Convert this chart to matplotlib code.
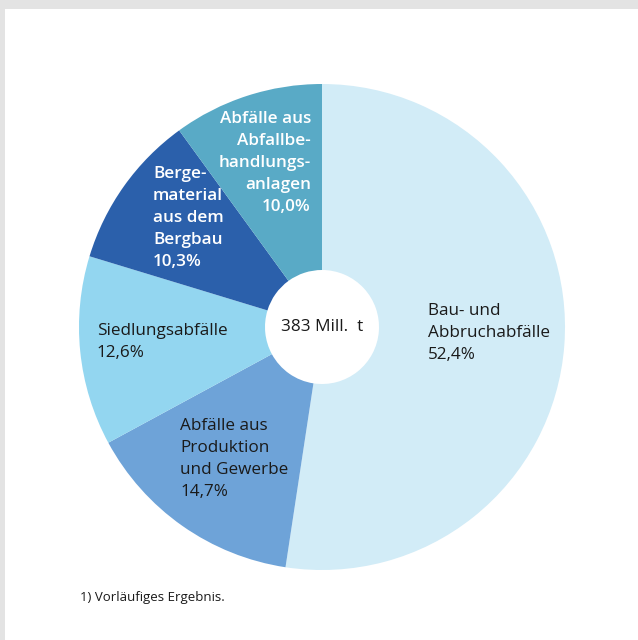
import matplotlib.pyplot as plt
from matplotlib.patches import Rectangle

# Shares of waste volume (percent), clockwise from 12 o'clock
labels = [
    "Bau- und\nAbbruchabfälle\n52,4%",
    "Abfälle aus\nProduktion\nund Gewerbe\n14,7%",
    "Siedlungsabfälle\n12,6%",
    "Berge-\nmaterial\naus dem\nBergbau\n10,3%",
    "Abfälle aus\nAbfallbe-\nhandlungs-\nanlagen\n10,0%",
]
shares = [52.4, 14.7, 12.6, 10.3, 10.0]
colors = ["#d2ecf7", "#6ea3d8", "#93d6f0", "#2b60ab", "#59aac6"]
total_label = "383 Mill.  t"
footnote = "1) Vorläufiges Ergebnis."

W, H = 638, 640
fig = plt.figure(figsize=(W / 100, H / 100), dpi=100)
ax = fig.add_axes([0, 0, 1, 1])

cx, cy, r = 322, 327, 243
# y axis is inverted below, so counterclock=True draws clockwise on screen
ax.pie(shares, colors=colors, startangle=-90, counterclock=True,
       center=(cx, cy), radius=r, frame=True,
       wedgeprops=dict(width=r - 57, linewidth=0))
ax.set_xlim(0, W)
ax.set_ylim(H, 0)
ax.set_aspect("auto")
ax.axis("off")

# grey frame top and left
ax.add_patch(Rectangle((0, 0), W, 9, color="#e3e3e3", lw=0))
ax.add_patch(Rectangle((0, 0), 5, H, color="#e3e3e3", lw=0))

font = "Open Sans"
fs = 12.3
# label positions (pixel coords) and styling
pos = [(428, 333, "left", "#1a1a1a", "normal"),
       (180, 459, "left", "#1a1a1a", "normal"),
       (97, 342, "left", "#1a1a1a", "normal"),
       (153, 218, "left", "white", "semibold"),
       (311, 163, "right", "white", "semibold")]
for lab, (x, y, ha, c, w) in zip(labels, pos):
    ax.text(x, y, lab, ha=ha, va="center", color=c, fontweight=w,
            fontsize=fs, family=font, linespacing=1.5, multialignment=ha)

ax.text(cx, cy, total_label, ha="center", va="center", fontsize=fs,
        family=font, color="#1a1a1a")
ax.text(80, 597, footnote, ha="left", va="center", fontsize=9.5,
        family=font, color="#1a1a1a")

fig.savefig("out.png", dpi=100)
